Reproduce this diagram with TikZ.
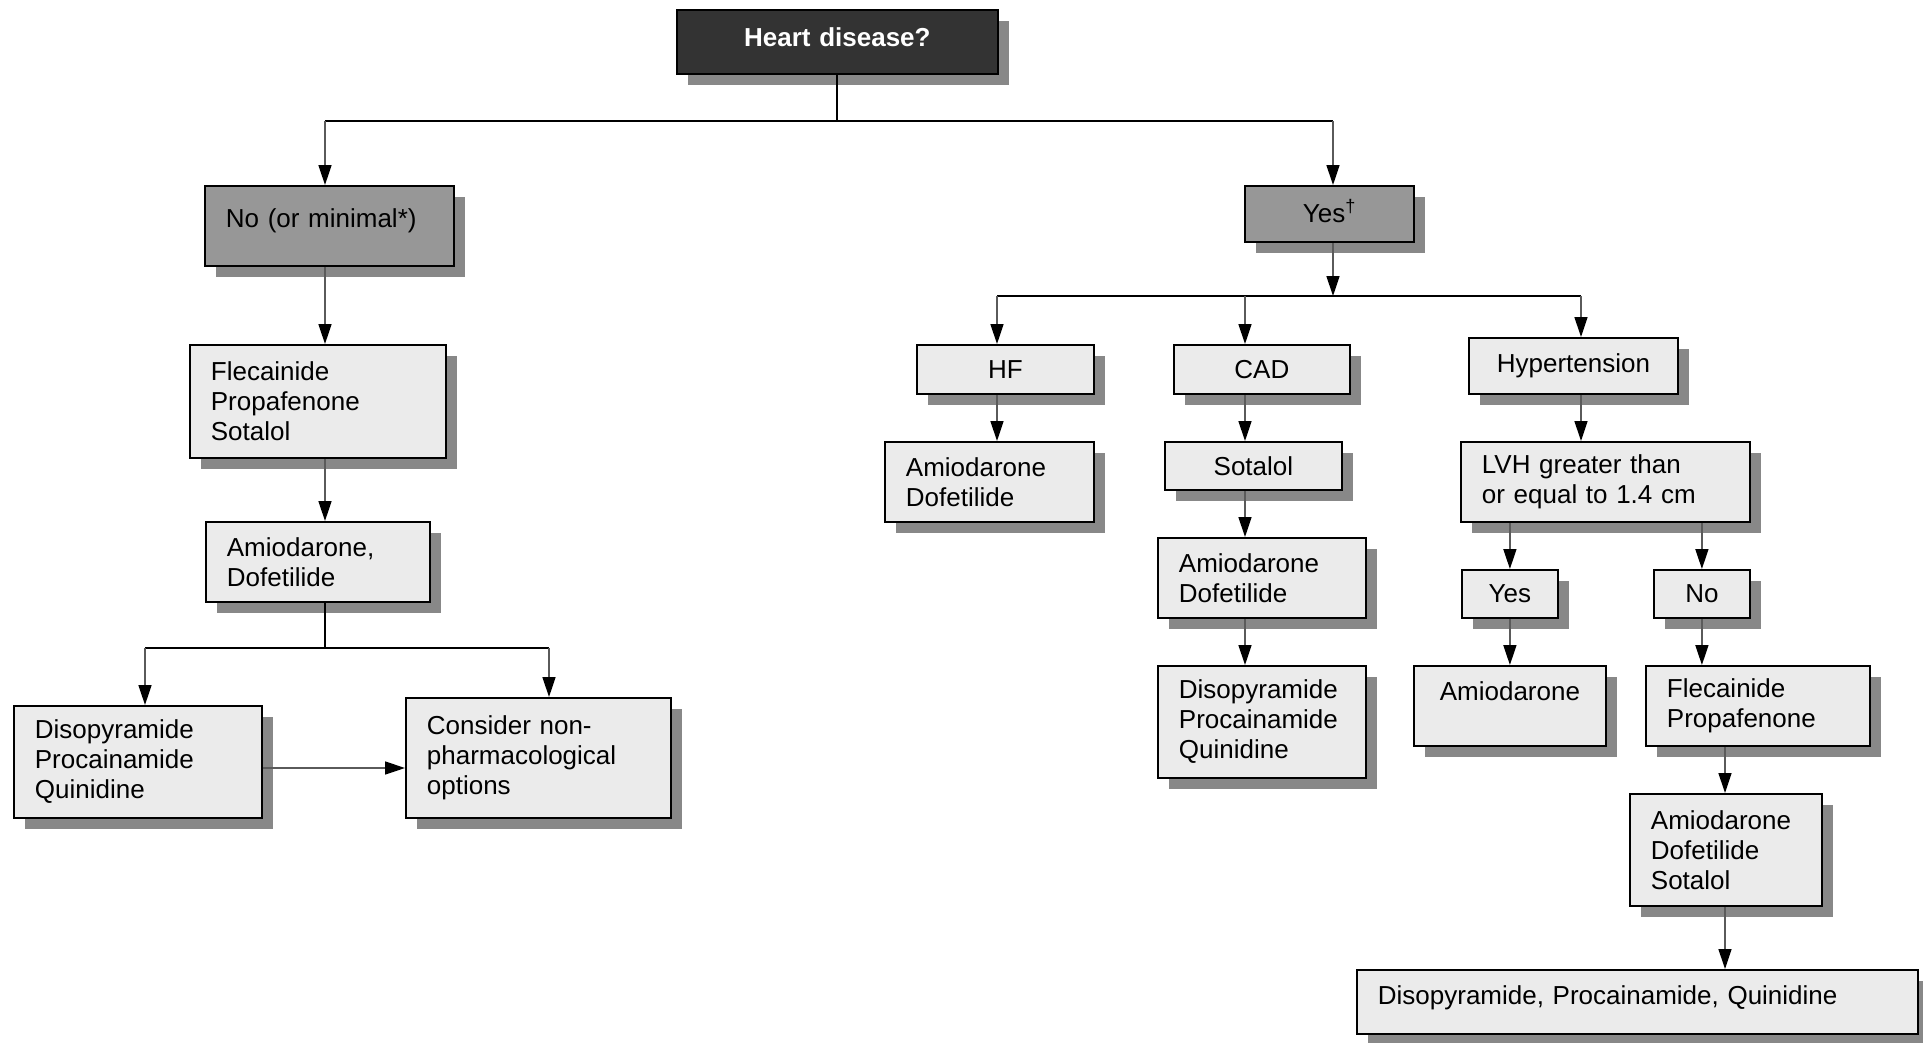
\documentclass[tikz,border=0pt]{standalone}
\usepackage{fontspec}
\setmainfont{Liberation Sans}
\usetikzlibrary{arrows.meta,shadows}
\definecolor{boxfill}{HTML}{EBEBEB}
\definecolor{midfill}{HTML}{979797}
\definecolor{darkfill}{HTML}{333333}
\definecolor{shadowgray}{HTML}{888888}
\definecolor{stemgray}{HTML}{5A5A5A}
\newcommand{\lift}[1]{\rule[-#1]{0pt}{0pt}}
\tikzset{
  boxbase/.style={draw=black, line width=1.8pt, fill=boxfill, inner xsep=21pt, inner ysep=0pt,
    anchor=north west, font=\fontsize{26}{30}\selectfont,
    general shadow={fill=shadowgray, shadow xshift=11pt, shadow yshift=-11pt}},
  lbox/.style={boxbase, align=left},
  cbox/.style={boxbase, align=center},
  arr/.style={draw=stemgray, line width=1.5pt, -{Triangle[length=20pt,width=13pt,color=black]}},
  busline/.style={draw=black, line width=2pt},
}
\begin{document}
\begin{tikzpicture}[x=1pt,y=-1pt]
\fill[white] (0,0) rectangle (1923,1042);
\useasboundingbox (0,0) rectangle (1923,1042);
% top
\node[cbox, fill=darkfill, text=white, font=\fontsize{26}{30}\selectfont\bfseries, text width=279pt, minimum height=64pt] (heart) at (676,9) {Heart disease?\lift{10pt}};
\node[lbox, fill=midfill, text width=207pt, minimum height=80pt] (no) at (204,185) {No (or minimal*)\lift{15pt}};
\node[cbox, fill=midfill, text width=127pt, minimum height=56pt] (yes) at (1244,185) {Yes\textsuperscript{†}\lift{6pt}};
% left branch
\node[lbox, text width=214pt, minimum height=113pt] (flec) at (189,344) {Flecainide\\Propafenone\\Sotalol};
\node[lbox, text width=182pt, minimum height=80pt] (amio) at (205,521) {Amiodarone,\\Dofetilide};
\node[lbox, text width=206pt, minimum height=112pt] (diso) at (13,705) {Disopyramide\\Procainamide\\Quinidine};
\node[lbox, text width=223pt, minimum height=120pt] (cons) at (405,697) {Consider non-\\pharmacological\\options};
% HF
\node[cbox, text width=135pt, minimum height=49pt] (hf) at (916,344) {HF};
\node[lbox, text width=167pt, minimum height=80pt] (hfa) at (884,441) {Amiodarone\\Dofetilide};
% CAD
\node[cbox, text width=134pt, minimum height=49pt] (cad) at (1173,344) {CAD};
\node[cbox, text width=135pt, minimum height=48pt] (sot) at (1164,441) {Sotalol};
\node[lbox, text width=166pt, minimum height=80pt] (cada) at (1157,537) {Amiodarone\\Dofetilide};
\node[lbox, text width=166pt, minimum height=112pt] (cadd) at (1157,665) {Disopyramide\\Procainamide\\Quinidine};
% Hypertension
\node[cbox, text width=167pt, minimum height=56pt] (hyp) at (1468,337) {Hypertension};
\node[lbox, text width=247pt, minimum height=80pt] (lvh) at (1460,441) {LVH greater than\\or equal to 1.4 cm};
\node[cbox, text width=54pt, minimum height=48pt] (hyes) at (1461,569) {Yes};
\node[cbox, text width=54pt, minimum height=48pt] (hno) at (1653,569) {No};
\node[cbox, text width=150pt, minimum height=80pt] (hamio) at (1413,665) {Amiodarone\\\mbox{}};
\node[lbox, text width=182pt, minimum height=80pt] (flp) at (1645,665) {Flecainide\\Propafenone};
\node[lbox, text width=150pt, minimum height=112pt] (ads) at (1629,793) {Amiodarone\\Dofetilide\\Sotalol};
\node[lbox, text width=519pt, minimum height=64pt] (fin) at (1356,969) {Disopyramide, Procainamide, Quinidine\lift{13pt}};
% coordinates
\coordinate (tl) at (325,121);
\coordinate (tr) at (1333,121);
\coordinate (yb) at (1333,296);
\coordinate (hfx) at (997,296);
\coordinate (cadx) at (1245,296);
\coordinate (hypx) at (1581,296);
\coordinate (lx) at (325,648);
\coordinate (ll) at (145,648);
\coordinate (lr) at (549,648);
\coordinate (dy) at (0,768);
\coordinate (fx) at (1725,0);
% top connectors
\draw[busline] (heart.south) -- (heart.south |- tl);
\draw[busline] (tl) -- (tr);
\draw[arr] (tl) -- (no.north -| tl);
\draw[arr] (tr) -- (yes.north -| tr);
% left connectors
\draw[arr] (no.south -| lx) -- (flec.north -| lx);
\draw[arr] (flec.south -| lx) -- (amio.north -| lx);
\draw[busline] (amio.south -| lx) -- (lx);
\draw[busline] (ll) -- (lr);
\draw[arr] (ll) -- (diso.north -| ll);
\draw[arr] (lr) -- (cons.north -| lr);
\draw[arr] (diso.east |- dy) -- (cons.west |- dy);
% right connectors
\draw[arr] (yes.south -| yb) -- (yb);
\draw[busline] (hfx) -- (hypx);
\draw[arr] (hfx) -- (hf.north -| hfx);
\draw[arr] (cadx) -- (cad.north -| cadx);
\draw[arr] (hypx) -- (hyp.north -| hypx);
\draw[arr] (hf.south -| hfx) -- (hfa.north -| hfx);
\draw[arr] (cad.south -| cadx) -- (sot.north -| cadx);
\draw[arr] (sot.south -| cadx) -- (cada.north -| cadx);
\draw[arr] (cada.south -| cadx) -- (cadd.north -| cadx);
\draw[arr] (hyp.south -| hypx) -- (lvh.north -| hypx);
\draw[arr] (lvh.south -| hyes.north) -- (hyes.north);
\draw[arr] (lvh.south -| hno.north) -- (hno.north);
\draw[arr] (hyes.south) -- (hyes.south |- hamio.north);
\draw[arr] (hno.south) -- (hno.south |- flp.north);
\draw[arr] (flp.south -| fx) -- (ads.north -| fx);
\draw[arr] (ads.south -| fx) -- (fin.north -| fx);
\end{tikzpicture}
\end{document}
